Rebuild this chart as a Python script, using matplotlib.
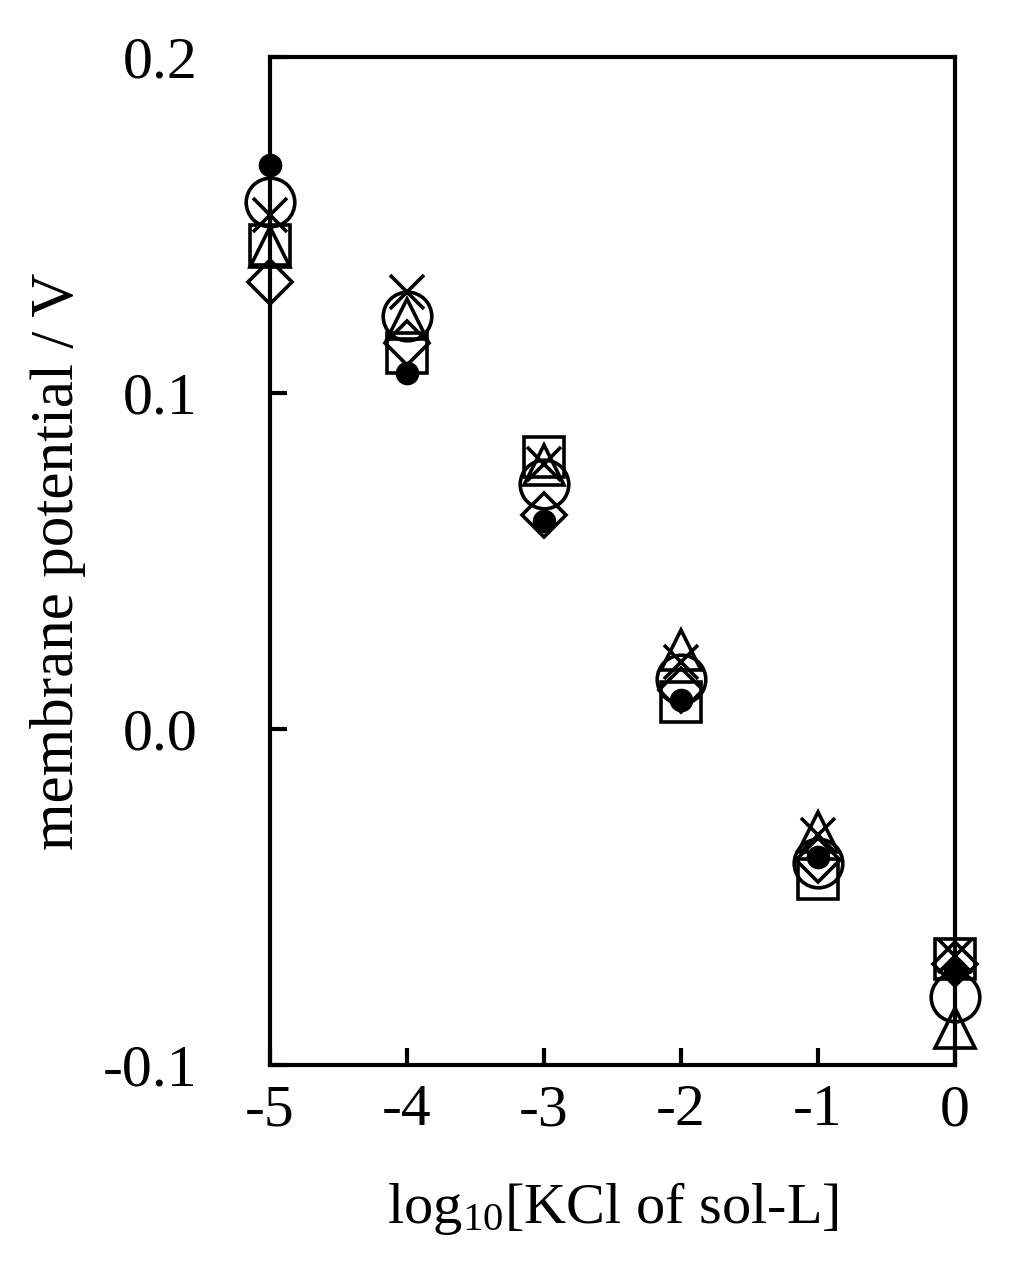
#!/usr/bin/env python3

import numpy as np
from matplotlib import pyplot as plt

# Data
LogKCl = [-5, -4, -3, -2, -1, 0]
FilledCircle = [0.168, 0.106, 0.062, 0.0086, -0.038, -0.0717]
OpenCircle = [0.157, 0.123, 0.073, 0.015, -0.040, -0.0797]
Cross = [0.153, 0.130, 0.079, 0.020, -0.0315, -0.0675]
Square = [0.144, 0.112, 0.081, 0.008, -0.0446, -0.0685]
Triangle = [0.1435, 0.122, 0.0786, 0.0235, -0.0306, -0.089]
Diamond = [0.133, 0.115, 0.0637, 0.0115, -0.039, -0.070]

XTicks = [-5, -4, -3, -2, -1, 0]
YTicks = [-0.1, 0.0, 0.1, 0.2]
YTickLabels = ['-0.1', '0.0', '0.1', '0.2']


def main():
    plt.rcParams['font.family'] = ['Liberation Serif', 'DejaVu Serif']
    plt.rcParams['mathtext.fontset'] = 'custom'
    plt.rcParams['mathtext.rm'] = 'Liberation Serif'
    plt.rcParams['mathtext.default'] = 'regular'

    fig = plt.figure(figsize=(10.09, 12.85), dpi=100)
    ax = fig.add_axes([0.2676, 0.1712, 0.6789, 0.7844])

    Edge = 2.6
    # Open markers: transparent faces so overlapping outlines show through
    ax.plot(LogKCl, OpenCircle, 'o', ms=35, mfc='none', mec='black', mew=Edge, clip_on=False)
    ax.plot(LogKCl, Square, 's', ms=29, mfc='none', mec='black', mew=Edge, clip_on=False)
    ax.plot(LogKCl, Triangle, '^', ms=29, mfc='none', mec='black', mew=Edge, clip_on=False)
    ax.plot(LogKCl, Diamond, 'D', ms=22, mfc='none', mec='black', mew=Edge, clip_on=False)
    ax.plot(LogKCl, Cross, 'x', ms=24, mec='black', mew=Edge, clip_on=False)
    ax.plot(LogKCl, FilledCircle, 'o', ms=16, mfc='black', mec='black', mew=1, clip_on=False)

    ax.set_xlim(-5, 0)
    ax.set_ylim(-0.1, 0.2)
    ax.set_xticks(XTicks, [str(t) for t in XTicks])
    ax.set_yticks(YTicks, YTickLabels)

    for Spine in ax.spines.values():
        Spine.set_linewidth(3)

    ax.tick_params(axis='both', direction='in', length=12, width=3, labelsize=43, top=False, right=False)
    ax.tick_params(axis='y', pad=52)
    ax.tick_params(axis='x', pad=14)

    ax.set_xlabel(r'log$_{10}$[KCl of sol-L]', fontsize=42, labelpad=30)
    ax.set_ylabel('membrane potential / V', fontsize=44, labelpad=12)

    fig.savefig('out.png', dpi=100)


if __name__ == '__main__':
    main()
